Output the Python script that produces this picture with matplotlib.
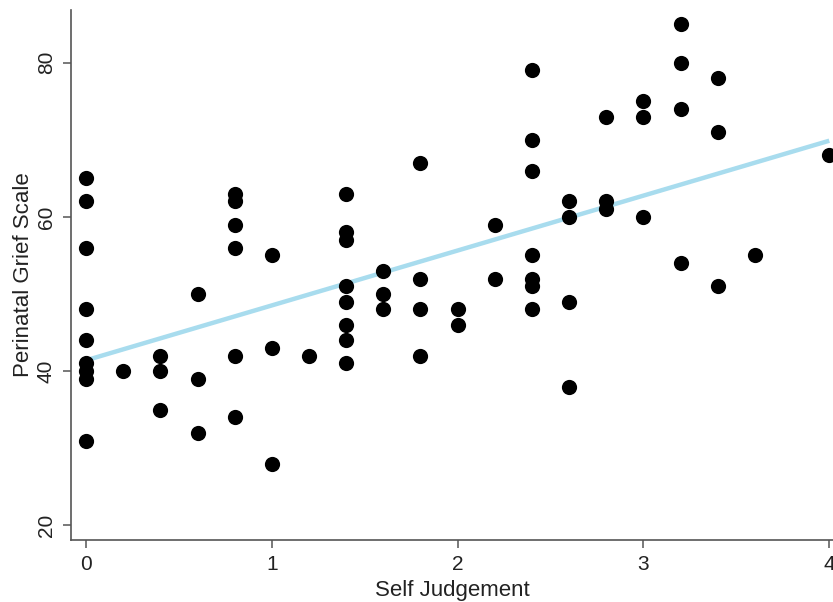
import matplotlib.pyplot as plt
import numpy as np

# self judgement score (x) and perinatal grief scale (y)
self_judgement = [0, 0, 0, 0, 0, 0, 0, 0, 0,
                  0.2,
                  0.4, 0.4, 0.4,
                  0.6, 0.6, 0.6,
                  0.8, 0.8, 0.8, 0.8, 0.8, 0.8,
                  1.0, 1.0, 1.0,
                  1.2,
                  1.4, 1.4, 1.4, 1.4, 1.4, 1.4, 1.4, 1.4,
                  1.6, 1.6, 1.6,
                  1.8, 1.8, 1.8, 1.8,
                  2.0, 2.0,
                  2.2, 2.2,
                  2.4, 2.4, 2.4, 2.4, 2.4, 2.4, 2.4,
                  2.6, 2.6, 2.6, 2.6,
                  2.8, 2.8, 2.8,
                  3.0, 3.0, 3.0,
                  3.2, 3.2, 3.2, 3.2,
                  3.4, 3.4, 3.4,
                  3.6,
                  4.0]
grief_scale = [65, 62, 56, 48, 44, 41, 40, 39, 31,
               40,
               42, 40, 35,
               50, 39, 32,
               63, 62, 59, 56, 42, 34,
               55, 43, 28,
               42,
               63, 58, 57, 51, 49, 46, 44, 41,
               53, 50, 48,
               67, 52, 48, 42,
               48, 46,
               59, 52,
               79, 70, 66, 55, 52, 51, 48,
               62, 60, 49, 38,
               73, 62, 61,
               75, 73, 60,
               85, 80, 74, 54,
               78, 71, 51,
               55,
               68]

# fitted line
fit_intercept = 41.4
fit_slope = 7.12
fit_range = [0, 4]

x_ticks = [0, 1, 2, 3, 4]
y_ticks = [20, 40, 60, 80]

plt.rcParams['font.family'] = ['Liberation Sans', 'DejaVu Sans']

fig = plt.figure(figsize=(8.33, 6.02), dpi=100)
ax = fig.add_axes([0.0852, 0.103, 0.9148, 0.880])

ax.scatter(self_judgement, grief_scale, s=120, color='black', zorder=3, linewidths=0)
fx = np.array(fit_range)
ax.plot(fx, fit_intercept + fit_slope * fx, color='#a8dcee', linewidth=3.2, zorder=2,
        solid_capstyle='butt')

ax.set_xlim(-0.081, 4.02)
ax.set_ylim(18.1, 86.8)
ax.set_xticks(x_ticks)
ax.set_yticks(y_ticks)
ax.set_yticklabels([str(v) for v in y_ticks], rotation=90, va='center')

ax.spines['top'].set_visible(False)
ax.spines['right'].set_visible(False)
for sp in ['left', 'bottom']:
    ax.spines[sp].set_color('#555555')
    ax.spines[sp].set_linewidth(1.2)
ax.tick_params(direction='out', length=6, width=1.1, color='#555555',
               labelsize=15, labelcolor='#222222', pad=5)

ax.set_xlabel('Self Judgement', fontsize=16, color='#222222', labelpad=4)
ax.set_ylabel('Perinatal Grief Scale', fontsize=16, color='#222222', labelpad=2)

plt.savefig('out.png', dpi=100)
